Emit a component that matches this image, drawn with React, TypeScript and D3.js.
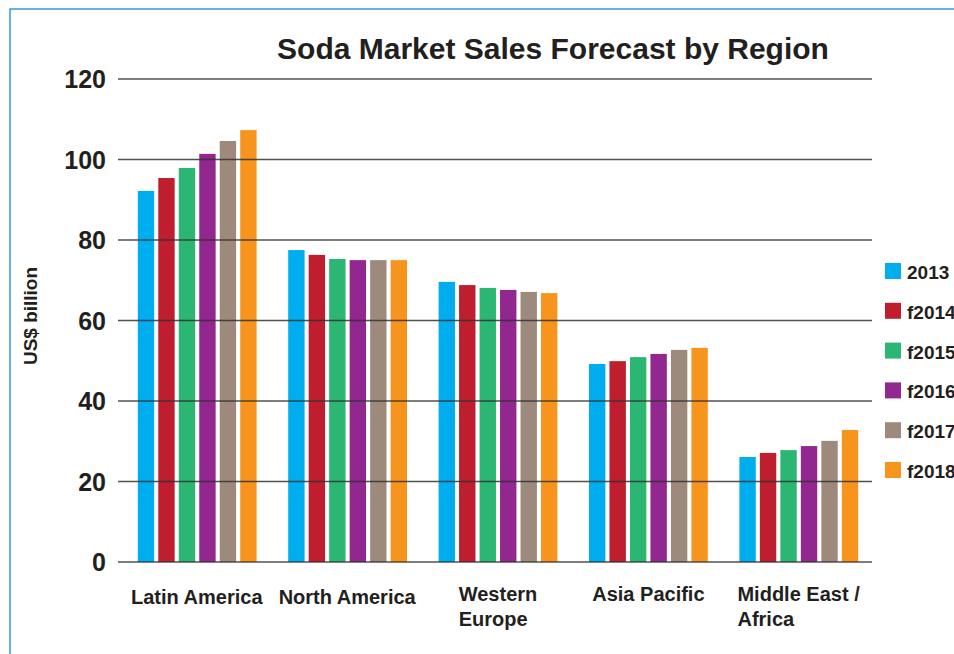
import React, { useEffect, useRef } from "react";
import * as d3 from "d3";

const regions = ["Latin America", "North America", "Western Europe", "Asia Pacific", "Middle East / Africa"];
const regionLines = [["Latin America"], ["North America"], ["Western", "Europe"], ["Asia Pacific"], ["Middle East /", "Africa"]];
const seriesNames = ["2013", "f2014", "f2015", "f2016", "f2017", "f2018"];
const seriesColors = ["#00aeef", "#be1e2d", "#2bb673", "#92278f", "#9e8a7c", "#f7941d"];
const s2013 = [92.2, 77.5, 69.6, 49.2, 26.1];
const f2014 = [95.4, 76.3, 68.8, 49.9, 27.1];
const f2015 = [97.9, 75.3, 68.1, 50.9, 27.8];
const f2016 = [101.4, 75.0, 67.6, 51.7, 28.8];
const f2017 = [104.6, 75.0, 67.1, 52.7, 30.1];
const f2018 = [107.3, 75.0, 66.8, 53.2, 32.8];
const yTicks = [0, 20, 40, 60, 80, 100, 120];
const title = "Soda Market Sales Forecast by Region";
const yLabel = "US$ billion";

const W = 954, H = 654;
const FONT = "'Liberation Sans', Arial, Helvetica, sans-serif";

export default function App() {
  const ref = useRef<SVGSVGElement>(null);
  useEffect(() => {
    const svg = d3.select(ref.current);
    svg.selectAll("*").remove();
    const series = [s2013, f2014, f2015, f2016, f2017, f2018];

    svg.append("rect").attr("width", W).attr("height", H).attr("fill", "#fff");
    svg.append("rect").attr("x", 10).attr("y", 9).attr("width", W + 20).attr("height", H + 20)
      .attr("fill", "none").attr("stroke", "#3399dd").attr("stroke-width", 1.5);

    const y = d3.scaleLinear().domain([0, 120]).range([562, 79]);
    const x0 = d3.scaleBand<string>().domain(regions).range([122, 874]).paddingInner(0.21).paddingOuter(0.105);
    const x1 = d3.scaleBand<string>().domain(seriesNames).range([0, x0.bandwidth()]).paddingInner(0.2).paddingOuter(0);

    // bars
    const g = svg.append("g");
    regions.forEach((r, i) => {
      seriesNames.forEach((s, j) => {
        const v = series[j][i];
        g.append("rect")
          .attr("x", (x0(r) as number) + (x1(s) as number))
          .attr("y", y(v))
          .attr("width", x1.bandwidth())
          .attr("height", y(0) - y(v))
          .attr("fill", seriesColors[j]);
      });
    });

    // gridlines on top
    svg.append("g").selectAll("line").data(yTicks).join("line")
      .attr("x1", 118).attr("x2", 872)
      .attr("y1", (d) => y(d)).attr("y2", (d) => y(d))
      .attr("stroke", "#333").attr("stroke-opacity", 0.85).attr("stroke-width", 1.4);

    // y tick labels
    svg.append("g").selectAll("text").data(yTicks).join("text")
      .attr("x", 106).attr("y", (d) => y(d) + 9)
      .attr("text-anchor", "end")
      .attr("font-family", FONT).attr("font-weight", "bold").attr("font-size", 25)
      .attr("fill", "#231f20")
      .text((d) => d);

    // y label
    svg.append("text")
      .attr("transform", "translate(37,316) rotate(-90)")
      .attr("text-anchor", "middle")
      .attr("font-family", FONT).attr("font-weight", "bold").attr("font-size", 19)
      .attr("fill", "#231f20")
      .text(yLabel);

    // title
    svg.append("text")
      .attr("x", 553).attr("y", 59)
      .attr("text-anchor", "middle")
      .attr("font-family", FONT).attr("font-weight", "bold").attr("font-size", 30)
      .attr("fill", "#231f20")
      .text(title);

    // category labels
    regions.forEach((r, i) => {
      const lines = regionLines[i];
      const cx = (x0(r) as number) + x0.bandwidth() / 2;
      const t = svg.append("text")
        .attr("font-family", FONT).attr("font-weight", "bold").attr("font-size", 20)
        .attr("fill", "#231f20");
      const baseY = lines.length > 1 ? 601 : (i === 3 ? 601 : 604);
      lines.forEach((ln, k) => {
        t.append("tspan").attr("x", 0).attr("y", baseY + k * 25).text(ln);
      });
      const node = t.node() as SVGTextElement;
      const w = node.getBBox().width;
      t.attr("transform", `translate(${cx - w / 2},0)`);
    });

    // legend
    const lg = svg.append("g");
    seriesNames.forEach((s, j) => {
      const top = 263 + j * 39.8;
      lg.append("rect").attr("x", 885).attr("y", top).attr("width", 16).attr("height", 16).attr("fill", seriesColors[j]);
      lg.append("text").attr("x", 907).attr("y", top + 16)
        .attr("font-family", FONT).attr("font-weight", "bold").attr("font-size", 19)
        .attr("fill", "#231f20").text(s);
    });
  }, []);
  return (
    <svg ref={ref} width={W} height={H} style={{ position: "absolute", left: 0, top: 0, display: "block" }} />
  );
}
